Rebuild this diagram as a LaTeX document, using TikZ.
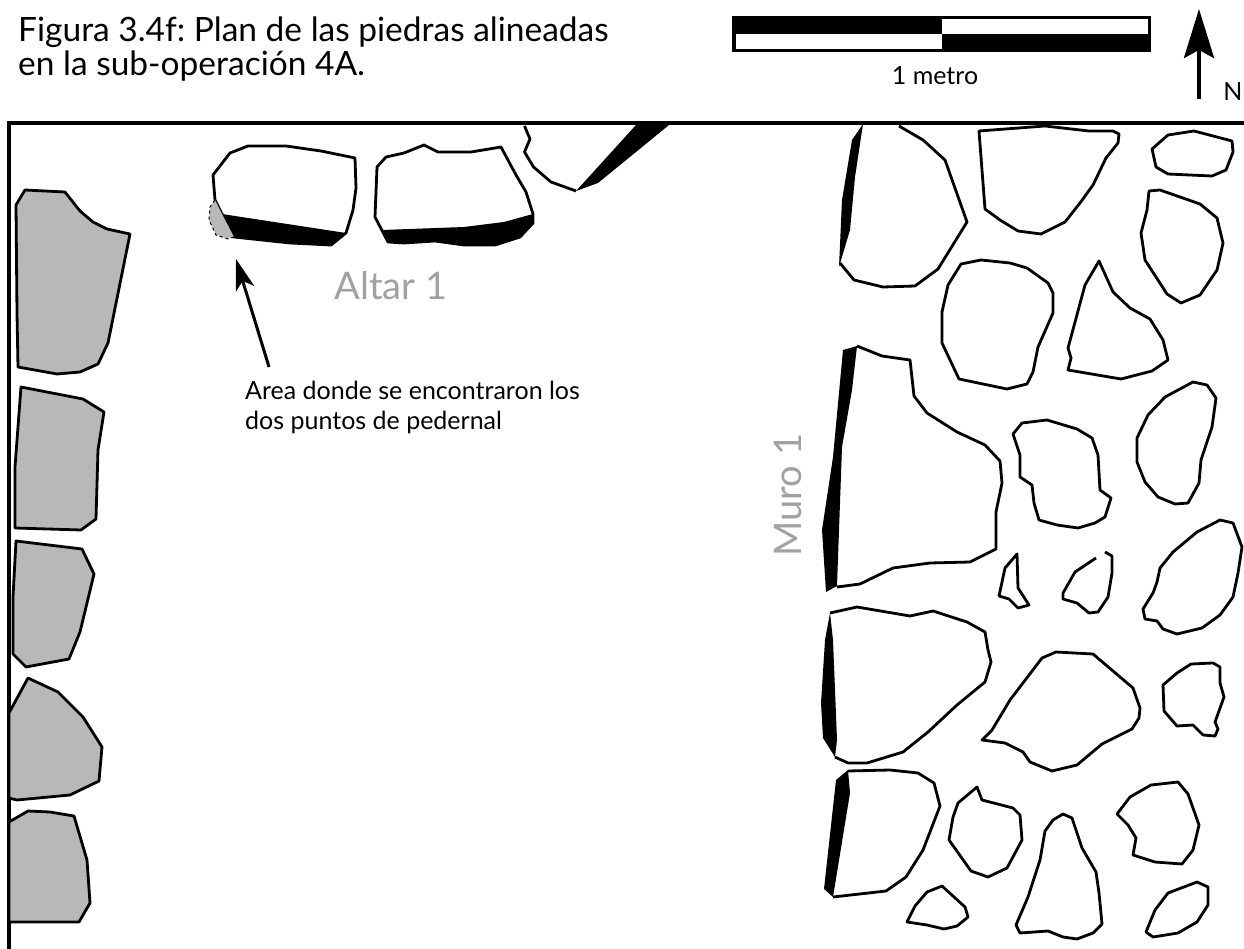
\documentclass[tikz,border=0pt]{standalone}
\usepackage{fontspec}
\setmainfont{Lato}
\usetikzlibrary{arrows.meta}
\definecolor{stonegray}{gray}{0.72}
\definecolor{labelgray}{gray}{0.63}
\tikzset{
  outline/.style={draw=black, line width=2.8pt, line join=round},
  whitestone/.style={outline, fill=white},
  graystone/.style={outline, fill=stonegray},
  worked/.style={fill=black, line join=round},
  bigtext/.style={text=labelgray, font=\fontsize{38}{38}\selectfont, inner sep=0pt},
  plaintext/.style={font=\fontsize{25}{30}\selectfont, inner sep=0pt, align=left},
}
\frenchspacing
\begin{document}
\begin{tikzpicture}[x=1pt,y=-1pt]
  \useasboundingbox (0,0) rectangle (1244,949);
  \node[anchor=north west, inner sep=0pt, align=left, font=\fontsize{33.5}{34}\selectfont] (title) at (18,17)
    {Figura 3.4f: Plan de las piedras alineadas\\en la sub-operación 4A.};
  % scale bar
  \fill (732,16) rectangle (1151,52);
  \fill[white] (942,19) rectangle (1148,34);
  \fill[white] (736,34) rectangle (942,49);
  \node[plaintext] (metro) at (935,76) {1 metro};
  % north
  \coordinate (northfoot) at (1199,99);
  \coordinate (northtip) at (1199,9);
  \draw[line width=3.6pt, -{Stealth[length=49pt, width=30pt, inset=8pt]}] (northfoot) -- (northtip);
  \node[plaintext] (north) at (1233,92) {N};
  % frame
  \draw[line width=3.8pt] (9,949) -- (9,123) -- (1244,123);
  % left wall
  \draw[graystone] (16,205) -- (25,190) -- (65,192) -- (80,211) -- (93,222) -- (107,229) -- (130,234) -- (108,343) -- (98,364) -- (80,372) -- (57,374) -- (18,367) -- (17,313) -- cycle;
  \draw[graystone] (21,387) -- (83,399) -- (104,412) -- (98,450) -- (96,519) -- (81,530) -- (15,528) -- (15,467) -- cycle;
  \draw[graystone] (16,541) -- (82,549) -- (94,574) -- (80,632) -- (69,659) -- (26,667) -- (13,654) -- (13,597) -- cycle;
  \draw[graystone] (28,678) -- (58,692) -- (83,717) -- (102,747) -- (99,781) -- (70,795) -- (17,800) -- (9,798) -- (9,713) -- cycle;
  \draw[graystone] (9,822) -- (28,811) -- (50,812) -- (74,816) -- (87,860) -- (90,903) -- (79,922) -- (9,922) -- cycle;
  % altar
  \draw[whitestone] (213,175) -- (230,153) -- (248,146) -- (286,146) -- (321,151) -- (355,158) -- (356,188) -- (353,210) -- (346,233) -- (331,245) -- (290,243) -- (234,237) -- (222,214) -- (215,200) -- cycle;
  \fill[worked] (222,214) -- (346,233) -- (331,245) -- (290,243) -- (234,237) -- cycle;
  \draw[fill=stonegray, draw=none] (215,200) -- (222,214) -- (234,237) -- (228,239) -- (216,235) -- (209,220) -- (210,207) -- cycle;
  \draw[dashed, line width=1pt] (234,237) -- (228,239) -- (216,235) -- (209,220) -- (210,207) -- (215,200);
  \draw[whitestone] (377,167) -- (386,157) -- (404,153) -- (424,145) -- (438,152) -- (471,152) -- (501,147) -- (516,175) -- (526,192) -- (533,214) -- (533,223) -- (520,237) -- (495,245) -- (464,245) -- (435,241) -- (404,243) -- (388,242) -- (375,217) -- cycle;
  \fill[worked] (533,214) -- (504,222) -- (464,227) -- (382,230) -- (388,242) -- (404,243) -- (435,241) -- (464,245) -- (495,245) -- (520,237) -- (533,223) -- cycle;
  \draw[outline] (524.5,126) -- (530,139) -- (524.5,152) -- (533.5,167) -- (551,182) -- (576,191);
  \fill[worked] (576,191) -- (636,125) -- (669,125) -- (647,143) -- (598,183) -- cycle;
  \node[bigtext] (altar) at (391,286) {Altar 1};
  \node[plaintext, anchor=north west] (note) at (245,381) {Area donde se encontraron los\\dos puntos de pedernal};
  \coordinate (leadfoot) at (269,367);
  \coordinate (leadtip) at (236,259);
  \draw[line width=3pt, -{Stealth[length=31pt, width=19pt, inset=8pt]}] (leadfoot) -- (leadtip);
  % Muro 1, faced stones
  \node[bigtext, rotate=90] (muro) at (788,495) {Muro 1};
  \draw[whitestone] (899,126) -- (923,140) -- (945,160) -- (967,222) -- (938,269) -- (915,286) -- (883,287) -- (854,280) -- (840,263);
  \fill[worked] (863,124) -- (852,140) -- (842,200) -- (839,267) -- (850,230) -- (855,177) -- cycle;
  \draw[whitestone] (857,346) -- (882,356) -- (910,360) -- (914,396) -- (927,413) -- (957,432) -- (985,445) -- (1000,461) -- (1002,483) -- (996,512) -- (996,549) -- (970,562) -- (930,563) -- (893,568) -- (860,584) -- (837,587);
  \fill[worked] (843,350) -- (857,346) -- (852,390) -- (842,447) -- (837,586) -- (826,592) -- (822,530) -- (833,457) -- cycle;
  \draw[whitestone] (830,613) -- (857,607) -- (910,616) -- (933,611) -- (967,622) -- (985,632) -- (988,650) -- (991,662) -- (985,682) -- (957,705) -- (928,732) -- (903,752) -- (867,763) -- (848,763) -- (835,757);
  \fill[worked] (830,613) -- (833,640) -- (837,740) -- (835,757) -- (823,738) -- (821,703) -- (825,640) -- cycle;
  \draw[whitestone] (848,771) -- (890,770) -- (918,773) -- (934,783) -- (940,806) -- (923,850) -- (906,877) -- (886,891) -- (833,897);
  \fill[worked] (848,770) -- (850,793) -- (833,897) -- (824,889) -- (836,780) -- cycle;
  % Muro 1, fill stones
  \draw[whitestone] (979,131) -- (1045,126) -- (1089,131) -- (1113,131) -- (1119,134) -- (1118,143) -- (1106,158) -- (1093,185) -- (1080,203) -- (1065,222) -- (1041,234) -- (1018,231) -- (1000,220) -- (985,209) -- cycle;
  \draw[whitestone] (1152,149) -- (1168,135) -- (1194,131) -- (1232,141) -- (1233,152) -- (1226,170) -- (1212,176) -- (1168,174) -- (1156,167) -- cycle;
  \draw[whitestone] (1149,191) -- (1160,190) -- (1200,204) -- (1217,218) -- (1223,243) -- (1217,270) -- (1200,295) -- (1181,303) -- (1167,294) -- (1145,260) -- (1141,233) -- (1147,210) -- cycle;
  \draw[whitestone] (961,264) -- (981,260) -- (1010,263) -- (1027,268) -- (1048,283) -- (1053,293) -- (1053,313) -- (1038,347) -- (1033,372) -- (1027,384) -- (1007,389) -- (959,379) -- (942,343) -- (942,312) -- (948,285) -- cycle;
  \draw[whitestone] (1099,261) -- (1113,292) -- (1130,308) -- (1150,319) -- (1163,340) -- (1168,360) -- (1152,371) -- (1121,379) -- (1068,370) -- (1071,358) -- (1068,348) -- (1085,285) -- cycle;
  \draw[whitestone] (1013,434) -- (1022,423) -- (1047,420) -- (1077,429) -- (1092,438) -- (1098,455) -- (1100,490) -- (1111,498) -- (1105,517) -- (1095,523) -- (1078,528) -- (1057,525) -- (1039,520) -- (1034,503) -- (1032,485) -- (1020,477) -- (1020,455) -- cycle;
  \draw[whitestone] (1137,438) -- (1148,415) -- (1165,397) -- (1193,382) -- (1207,385) -- (1216,398) -- (1212,427) -- (1201,460) -- (1199,483) -- (1188,503) -- (1175,504) -- (1158,497) -- (1145,482) -- (1137,462) -- cycle;
  \draw[whitestone] (1017,554) -- (1005,568) -- (999,596) -- (1009,599) -- (1018,608) -- (1029,605) -- (1018,588) -- cycle;
  \draw[outline] (1096,558) -- (1075,572) -- (1063,593) -- (1063,599) -- (1077,603) -- (1089,613) -- (1098,612) -- (1108,597) -- (1112,573) -- (1112,556) -- (1105,552);
  \draw[whitestone] (1160,568) -- (1173,552) -- (1197,532) -- (1220,520) -- (1233,523) -- (1242,547) -- (1238,573) -- (1233,597) -- (1220,615) -- (1202,628) -- (1177,634) -- (1163,629) -- (1157,621) -- (1145,619) -- (1143,609) -- (1153,593) -- (1157,582) -- cycle;
  \draw[whitestone] (982,740) -- (992,730) -- (1010,700) -- (1042,658) -- (1056,652) -- (1093,654) -- (1133,688) -- (1140,708) -- (1139,718) -- (1132,729) -- (1102,744) -- (1077,765) -- (1052,771) -- (1030,762) -- (1023,752) -- (1005,743) -- cycle;
  \draw[whitestone] (1163,685) -- (1177,673) -- (1191,664) -- (1213,663) -- (1220,667) -- (1220,683) -- (1224,697) -- (1215,722) -- (1218,729) -- (1215,736) -- (1203,735) -- (1193,725) -- (1177,726) -- (1164,711) -- cycle;
  \draw[whitestone] (958,803) -- (977,787) -- (982,800) -- (1013,808) -- (1020,815) -- (1022,840) -- (1007,868) -- (988,877) -- (971,871) -- (949,840) -- (953,817) -- cycle;
  \draw[whitestone] (1045,831) -- (1053,820) -- (1063,814) -- (1072,818) -- (1082,848) -- (1096,872) -- (1099,893) -- (1102,924) -- (1093,933) -- (1077,939) -- (1063,937) -- (1048,931) -- (1020,933) -- (1016,925) -- (1028,897) -- (1040,860) -- cycle;
  \draw[whitestone] (1117,814) -- (1130,797) -- (1151,785) -- (1178,782) -- (1188,794) -- (1199,825) -- (1193,850) -- (1182,864) -- (1155,862) -- (1133,855) -- (1136,838) -- (1128,825) -- cycle;
  \draw[whitestone] (907,922) -- (915,906) -- (927,892) -- (942,886) -- (965,907) -- (968,917) -- (957,926) -- (944,929) -- (927,925) -- cycle;
  \draw[whitestone] (1146,932) -- (1155,910) -- (1168,893) -- (1197,882) -- (1208,887) -- (1208,905) -- (1197,922) -- (1178,933) -- (1153,937) -- cycle;
\end{tikzpicture}
\end{document}
